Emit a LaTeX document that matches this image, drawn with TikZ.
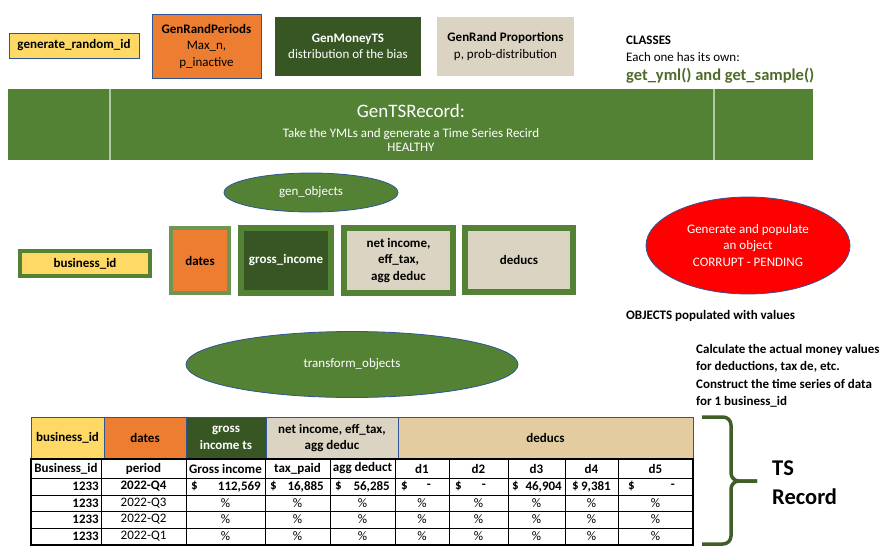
\documentclass[tikz,border=0pt]{standalone}
\usepackage{fontspec}
\setmainfont{Carlito}
\usetikzlibrary{shapes.geometric}

\definecolor{idyellow}{HTML}{FFD966}
\definecolor{perorange}{HTML}{ED7D31}
\definecolor{darkgreen}{HTML}{375623}
\definecolor{midgreen}{HTML}{548235}
\definecolor{linen}{HTML}{DCD4C2}
\definecolor{papyrus}{HTML}{E3CC9F}
\definecolor{edgeblue}{HTML}{2F5597}
\definecolor{bracegreen}{HTML}{3F5F26}
\definecolor{classgreen}{HTML}{4F6B2B}

\begin{document}
\fontsize{13}{16.5}\selectfont
\begin{tikzpicture}[x=1pt,y=-1pt,
	every node/.style={inner sep=0pt, align=center},
	classbox/.style={draw=edgeblue, line width=0.8pt},
	objbox/.style={draw=midgreen, line width=#1},
	blob/.style={ellipse, draw=edgeblue, line width=0.8pt, fill=midgreen, text=white},
	gridline/.style={black, line width=0.8pt}]
		\useasboundingbox (0,0) rectangle (891,557);
		% classes
		\node[classbox, fill=idyellow, minimum width=130pt, minimum height=25pt, font=\bfseries] (randid) at (74,45.5) {generate\_random\_id};
		\node[classbox, fill=perorange, minimum width=109pt, minimum height=64pt] (periods) at (206.5,46) {\textbf{GenRandPeriods}\\Max\_n,\\p\_inactive};
		\node[fill=darkgreen, text=white, minimum width=146pt, minimum height=59pt] (moneyts) at (348,46.5) {\textbf{GenMoneyTS}\\distribution of the bias};
		\node[fill=linen, minimum width=137pt, minimum height=59pt] (props) at (505.5,46.5) {\textbf{GenRand Proportions}\\p, prob-distribution};
		\node[anchor=west, font=\bfseries] (classes) at (626,40) {CLASSES};
		\node[anchor=west] (ownone) at (626,57) {Each one has its own:};
		\node[anchor=west, font=\fontsize{16.5}{20}\selectfont\bfseries, text=classgreen] (getters) at (626,76) {get\_yml() and get\_sample()};
		% record generator
		\node[fill=midgreen, minimum width=805pt, minimum height=71pt] (tsrec) at (410.5,124.5) {};
		\draw[white!55!midgreen, line width=1.2pt] (110,89) -- (110,160) (714,89) -- (714,160);
		\node[text=white, font=\fontsize{19}{22}\selectfont] (tstitle) at (411,111) {GenTSRecord:};
		\node[text=white, font=\fontsize{13}{14.5}\selectfont] (tssub) at (411,140) {Take the YMLs and generate a Time Series Recird\\HEALTHY};
		% objects
		\node[blob, minimum width=174pt, minimum height=39pt] (genobj) at (311,192.5) {gen\_objects};
		\node[objbox=4pt, fill=idyellow, minimum width=130pt, minimum height=25pt, font=\bfseries] (bid) at (85,263.5) {business\_id};
		\node[objbox=4pt, draw=midgreen!85!white, fill=perorange, minimum width=58pt, minimum height=65pt, font=\bfseries] (dates) at (200,260.5) {dates};
		\node[objbox=6pt, fill=darkgreen, text=white, minimum width=90pt, minimum height=65pt, font=\bfseries] (gross) at (286,260.5) {gross\_income};
		\node[objbox=6pt, fill=linen, minimum width=109pt, minimum height=65pt, font=\bfseries] (net) at (398.5,260.5) {net income,\\eff\_tax,\\agg deduc};
		\node[objbox=6pt, fill=linen, minimum width=108pt, minimum height=64pt, font=\bfseries] (deducs) at (519,260) {deducs};
		\node[ellipse, draw=edgeblue, line width=0.8pt, fill=red, text=white, minimum width=204pt, minimum height=97pt] (corrupt) at (748,245.5) {Generate and populate\\an object\\CORRUPT - PENDING};
		\node[anchor=west, font=\bfseries] (populated) at (626,316) {OBJECTS populated with values};
		% transform
		\node[blob, minimum width=332pt, minimum height=66pt] (transform) at (352,364.5) {transform\_objects};
		\node[anchor=north west, align=left, font=\fontsize{13}{17.5}\selectfont\bfseries] (calcnote) at (696,344) {Calculate the actual money values\\for deductions, tax de, etc.\\Construct the time series of data\\for 1 business\_id};
		% table header
		\node[classbox, fill=idyellow, minimum width=73pt, minimum height=42pt, font=\bfseries] (hbid) at (67.5,438) {business\_id};
		\node[classbox, fill=perorange, minimum width=82pt, minimum height=42pt, font=\bfseries] (hdates) at (145,438) {dates};
		\node[classbox, fill=darkgreen, text=white, minimum width=80pt, minimum height=42pt, font=\bfseries] (hgross) at (226,438) {gross\\income ts};
		\node[classbox, fill=linen, minimum width=132pt, minimum height=42pt, font=\bfseries] (hnet) at (332,438) {net income, eff\_tax,\\agg deduc};
		\node[classbox, fill=papyrus, minimum width=295pt, minimum height=42pt, font=\bfseries] (hdeducs) at (545.5,438) {deducs};
		% table body
		\foreach \xc in {101,186,265,330,395,449,508,565,618}
			\draw[gridline] (\xc,459) -- (\xc,545);
		\foreach \yr in {478,495,511,528}
			\draw[gridline] (31,\yr) -- (693,\yr);
		\draw[line width=2pt] (31,459) rectangle (693,545);
		\node[font=\bfseries] (cbid) at (66,468.5) {Business\_id};
		\node[font=\bfseries] (cper) at (143.5,468.5) {period};
		\node[font=\bfseries] (cgross) at (225.5,468.5) {Gross income};
		\node[font=\bfseries] (ctax) at (297.5,468.5) {tax\_paid};
		\node[font=\bfseries] (cagg) at (362.5,468.5) {agg deduct};
		\node[font=\bfseries] (cd1) at (422,468.5) {d1};
		\node[font=\bfseries] (cd2) at (478.5,468.5) {d2};
		\node[font=\bfseries] (cd3) at (536.5,468.5) {d3};
		\node[font=\bfseries] (cd4) at (591.5,468.5) {d4};
		\node[font=\bfseries] (cd5) at (655.5,468.5) {d5};
		% first quarter, with values
		\node[anchor=east, font=\bfseries] (id2) at (99,486.5) {1233};
		\node[font=\bfseries] (per2) at (143.5,486.5) {2022-Q4};
		\node[anchor=west, font=\bfseries] (cur23) at (191,486.5) {\$};
		\node[anchor=east, font=\bfseries] (val23) at (261,486.5) {112,569};
		\node[anchor=west, font=\bfseries] (cur24) at (270,486.5) {\$};
		\node[anchor=east, font=\bfseries] (val24) at (324,486.5) {16,885};
		\node[anchor=west, font=\bfseries] (cur25) at (335,486.5) {\$};
		\node[anchor=east, font=\bfseries] (val25) at (390,486.5) {56,285};
		\node[anchor=west, font=\bfseries] (cur26) at (401,486.5) {\$};
		\node[anchor=east, font=\bfseries] (val26) at (431,486.5) {-};
		\node[anchor=west, font=\bfseries] (cur27) at (455,486.5) {\$};
		\node[anchor=east, font=\bfseries] (val27) at (486,486.5) {-};
		\node[anchor=west, font=\bfseries] (cur28) at (512,486.5) {\$};
		\node[anchor=east, font=\bfseries] (val28) at (562,486.5) {46,904};
		\node[anchor=west, font=\bfseries] (cur29) at (572,486.5) {\$};
		\node[anchor=east, font=\bfseries] (val29) at (611,486.5) {9,381};
		\node[anchor=west, font=\bfseries] (cur210) at (628,486.5) {\$};
		\node[anchor=east, font=\bfseries] (val210) at (675,486.5) {-};
		% other quarters
		\foreach \yr/\q [count=\i from 3] in {503/3,519.5/2,536.5/1} {
			\node[anchor=east, font=\bfseries] (id\i) at (99,\yr) {1233};
			\node (per\i) at (143.5,\yr) {2022-Q\q};
			\foreach \xc [count=\j from 3] in {225.5,297.5,362.5,422,478.5,536.5,591.5,655.5}
				\node (pct\i-\j) at (\xc,\yr) {\%};
		}
		% record brace
		\draw[bracegreen, line width=3.5pt, rounded corners=8pt] (702,417) -- (731,417) -- (731,481) -- (757,481);
		\draw[bracegreen, line width=3.5pt, rounded corners=8pt] (702,544) -- (731,544) -- (731,481) -- (757,481);
		\node[anchor=west, align=left, font=\fontsize{22.5}{29}\selectfont\bfseries] (tsname) at (772,482.5) {TS\\Record};
	\end{tikzpicture}
\end{document}
